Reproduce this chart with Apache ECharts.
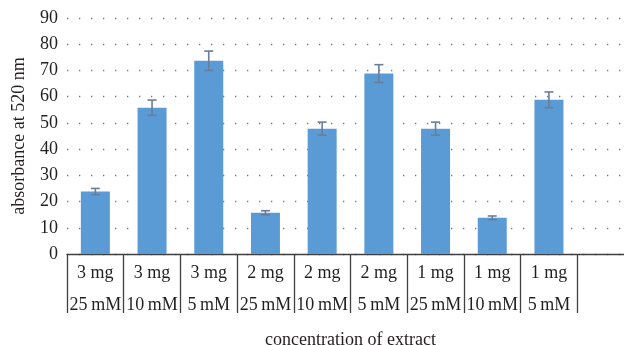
<!DOCTYPE html>
<html>
<head>
<meta charset="utf-8">
<script src="https://cdn.jsdelivr.net/npm/echarts@6/dist/echarts.min.js"></script>
<style>
html,body{margin:0;padding:0;background:#fff;overflow:hidden;width:624px;height:345px;}
#chart{width:634px;height:345px;}
</style>
</head>
<body>
<div id="chart"></div>
<script>
var doses = ['3 mg','3 mg','3 mg','2 mg','2 mg','2 mg','1 mg','1 mg','1 mg',''];
var concs = ['25\u2009mM','10\u2009mM','5\u2009mM','25\u2009mM','10\u2009mM','5\u2009mM','25\u2009mM','10\u2009mM','5\u2009mM',''];
var values = [23.8, 55.8, 73.7, 15.7, 47.8, 68.8, 47.8, 13.8, 58.8, null];
var errors = [1.2, 2.9, 3.7, 0.8, 2.5, 3.4, 2.5, 0.7, 3.0, null];
var yTicks = [0, 10, 20, 30, 40, 50, 60, 70, 80, 90];

var categories = doses.map(function (d, i) { return i; });
var errData = values.map(function (v, i) {
  return v == null ? [i, null, null] : [i, v - errors[i], v + errors[i]];
});

var font = 'Liberation Serif';
var chart = echarts.init(document.getElementById('chart'), null, {renderer: 'canvas'});
chart.setOption({
  animation: false,
  backgroundColor: '#fff',
  grid: {left: 67, top: 18, right: 0, bottom: 91, containLabel: false, outerBoundsMode: 'none'},
  xAxis: {
    type: 'category',
    data: categories,
    boundaryGap: true,
    name: 'concentration of extract',
    nameLocation: 'middle',
    nameGap: 77,
    nameTextStyle: {fontFamily: font, fontSize: 18, color: '#231f20'},
    axisLine: {show: true, lineStyle: {color: '#404040', width: 1.3}},
    axisTick: {show: true, interval: 0, length: 59, alignWithLabel: false, lineStyle: {color: '#404040', width: 1.3}},
    axisLabel: {
      interval: 0, margin: 3, lineHeight: 32,
      fontFamily: font, fontSize: 18, color: '#231f20',
      formatter: function (v, i) { return doses[i] + '\n' + concs[i]; }
    },
    splitLine: {show: false}
  },
  yAxis: {
    type: 'value',
    min: yTicks[0], max: yTicks[yTicks.length - 1], interval: yTicks[1] - yTicks[0],
    name: 'absorbance at 520 nm',
    nameLocation: 'middle',
    nameGap: 39,
    nameTextStyle: {fontFamily: font, fontSize: 18, color: '#231f20'},
    axisLine: {show: false},
    axisTick: {show: false},
    axisLabel: {margin: 9, fontFamily: font, fontSize: 18, color: '#231f20'},
    splitLine: {show: true, lineStyle: {color: '#777', width: 1.3, type: [1.3, 10.7]}}
  },
  series: [
    {
      type: 'bar',
      data: values,
      barWidth: 29,
      itemStyle: {color: '#5B9BD5'},
      z: 2
    },
    {
      type: 'custom',
      data: errData,
      z: 3,
      encode: {x: 0, y: [1, 2]},
      renderItem: function (params, api) {
        var lo = api.value(1), hi = api.value(2);
        if (lo == null || isNaN(lo)) return null;
        var x = api.value(0);
        var p1 = api.coord([x, lo]);
        var p2 = api.coord([x, hi]);
        var hw = 4.5;
        var st = {stroke: '#6a7d9b', lineWidth: 1.6};
        return {
          type: 'group',
          children: [
            {type: 'line', shape: {x1: p1[0], y1: p1[1], x2: p2[0], y2: p2[1]}, style: st},
            {type: 'line', shape: {x1: p1[0] - hw, y1: p1[1], x2: p1[0] + hw, y2: p1[1]}, style: st},
            {type: 'line', shape: {x1: p2[0] - hw, y1: p2[1], x2: p2[0] + hw, y2: p2[1]}, style: st}
          ]
        };
      }
    }
  ]
});
</script>
</body>
</html>
